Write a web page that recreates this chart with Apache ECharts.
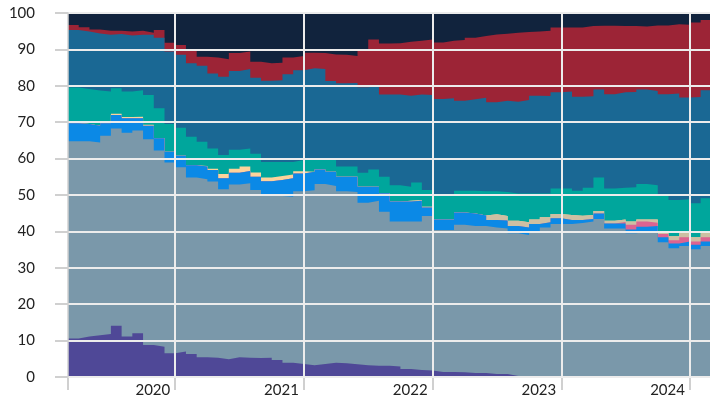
<!DOCTYPE html>
<html>
<head>
<meta charset="utf-8">
<script src="https://cdn.jsdelivr.net/npm/echarts@6/dist/echarts.min.js"></script>
<style>
  html, body { margin: 0; padding: 0; background: #fff; }
  #main { width: 710px; height: 400px; }
</style>
</head>
<body>
<div id="main"></div>
<script>
// monthly shares, Mar 2019 .. Feb 2024
const months = [
  '2019-03','2019-04','2019-05','2019-06','2019-07','2019-08','2019-09','2019-10','2019-11','2019-12',
  '2020-01','2020-02','2020-03','2020-04','2020-05','2020-06','2020-07','2020-08','2020-09','2020-10','2020-11','2020-12',
  '2021-01','2021-02','2021-03','2021-04','2021-05','2021-06','2021-07','2021-08','2021-09','2021-10','2021-11','2021-12',
  '2022-01','2022-02','2022-03','2022-04','2022-05','2022-06','2022-07','2022-08','2022-09','2022-10','2022-11','2022-12',
  '2023-01','2023-02','2023-03','2023-04','2023-05','2023-06','2023-07','2023-08','2023-09','2023-10','2023-11','2023-12',
  '2024-01','2024-02'
];
const yearTicks = [2020, 2021, 2022, 2023, 2024];
const yTicks = [0, 10, 20, 30, 40, 50, 60, 70, 80, 90, 100];

const purple = [10.6,11.1,11.5,11.8,14.1,11.1,12.0,8.8,8.3,6.5, 7.0,6.3,5.4,5.3,4.9,5.4,5.3,5.2,5.3,4.7,3.9,3.6,
  3.2,3.6,3.9,3.8,3.5,3.2,3.1,3.1,2.9,2.2,1.9,1.8, 1.4,1.4,1.3,1.1,1.1,0.8,0.8,0.3,0.2,0.2,0.2,0.2,
  0.2,0.1,0.1,0.1,0.1,0.1,0.1,0.1,0.1,0.1,0.1,0.1, 0.1,0.1];
const grey = [54.2,53.7,52.9,54.5,54.2,56.0,55.7,56.5,53.9,52.4, 50.6,48.5,48.9,48.4,46.7,47.5,47.9,46.2,44.4,45.0,45.6,47.4,
  48.1,49.4,48.6,47.2,47.3,44.7,45.3,42.3,39.8,40.5,40.8,42.4, 39.0,39.0,40.5,40.4,40.4,40.3,40.0,39.2,38.8,39.8,40.9,41.8,
  41.8,42.2,42.6,43.3,40.7,40.7,39.4,39.8,40.0,36.9,35.3,35.9, 35.0,35.9];
const blue = [4.9,4.7,4.6,3.4,3.7,4.0,3.4,3.7,3.4,3.0, 3.2,3.4,3.5,3.2,3.0,3.2,3.4,3.6,4.1,4.4,5.1,4.9,
  5.1,4.0,3.9,4.0,4.2,4.4,3.9,5.1,5.5,5.5,5.7,2.4, 2.9,2.9,3.4,3.4,2.9,2.0,2.2,2.0,2.1,2.0,1.4,1.6,
  1.1,0.8,0.7,1.5,1.4,1.4,1.0,1.4,1.4,1.4,1.3,1.2, 1.2,1.2];
const pink = [0,0,0,0,0,0,0,0,0,0, 0,0,0,0,0,0,0,0,0,0,0,0,
  0,0,0,0,0,0,0,0,0,0,0,0, 0,0,0,0,0,0,0,0,0,0,0,0,
  0,0,0,0,0,0.4,1.3,1.4,0.9,0.9,0.9,1.2, 0.9,1.2];
const beige = [0,0,0,0,0,0,0,0,0,0, 0,0,0,0,0,0,0,0,0,0,0,0,
  0,0,0,0,0,0,0,0,0,0.2,0.2,0.2, 0,0,0,0,0,1.6,1.2,1.4,1.4,1.3,1.4,1.2,
  1.4,1.2,1.1,0.7,0.7,0.7,0.9,0.6,0.9,0.6,1.1,1.1, 1.2,1.1];
const peach = [0,0,0,0,0.3,0.3,0.4,0.3,0,0, 0,0,0.2,0.3,1.2,1.1,1.2,1.2,1.0,1.1,1.0,0.6,
  0,0,0,0,0,0,0,0,0,0,0,0, 0,0,0,0,0,0,0,0,0,0,0,0,
  0,0,0,0,0,0,0,0,0,0,0,0, 0,0];
const teal = [9.8,9.6,9.7,8.7,7.0,7.0,7.3,8.2,8.2,7.6, 7.7,7.8,6.6,5.6,5.2,5.2,5.0,5.1,4.3,3.9,3.5,3.1,
  3.4,2.8,3.2,2.8,2.8,3.8,4.7,4.5,4.5,3.9,4.8,4.6, 6.4,6.4,6.0,6.3,6.6,6.3,6.6,7.5,7.9,7.1,6.5,7.0,
  7.3,6.9,7.5,9.2,8.9,8.7,9.4,9.7,9.4,10.1,9.9,9.3, 9.3,9.6];
const steel = [15.8,15.8,15.7,15.6,14.9,15.4,15.2,16.5,19.4,19.9, 20.0,20.2,20.9,20.6,21.5,21.7,21.8,20.9,22.3,22.4,24.1,24.7,
  25.0,24.8,21.7,22.9,23.0,23.5,23.0,22.6,24.9,25.0,24.2,26.1, 26.7,26.9,24.7,25.1,25.7,24.5,25.1,25.2,25.7,26.9,26.8,26.4,
  26.6,25.8,25.1,24.2,25.9,26.2,26.2,26.0,25.9,27.7,29.3,28.0, 29.2,29.7];
const red = [1.4,1.2,1.1,1.1,0.9,1.1,1.1,0.6,2.1,2.4, 2.7,3.6,2.5,4.4,4.8,4.9,4.8,4.4,4.8,4.8,4.6,3.9,
  4.3,4.4,7.3,7.8,7.4,10.2,12.7,14.0,14.1,14.8,14.8,15.2, 15.5,15.8,16.7,16.9,17.0,18.6,18.4,19.0,18.7,17.6,17.9,17.8,
  17.6,19.0,19.3,17.5,18.8,18.2,18.1,17.3,18.0,18.9,19.0,20.0, 20.5,19.3];
const navy = [3.3,3.9,4.5,4.9,4.9,5.1,4.9,5.4,4.7,8.2, 8.8,10.2,12.0,12.2,12.7,11.0,10.6,13.4,13.8,13.7,12.2,11.8,
  10.9,11.0,11.4,11.5,11.8,10.2,7.3,8.4,8.3,7.9,7.6,7.3, 8.1,7.6,7.4,6.8,6.3,5.9,5.7,5.4,5.2,5.1,4.9,4.0,
  4.0,4.0,3.6,3.5,3.5,3.6,3.6,3.7,3.4,3.4,3.1,3.2, 2.6,1.9];

// bottom to top
const layers = [
  { name: 'purple', data: purple, color: '#4f4897' },
  { name: 'grey',   data: grey,   color: '#7a98aa' },
  { name: 'blue',   data: blue,   color: '#0b89e6' },
  { name: 'pink',   data: pink,   color: '#dc6391' },
  { name: 'beige',  data: beige,  color: '#cdbfa3' },
  { name: 'peach',  data: peach,  color: '#fdd39b' },
  { name: 'teal',   data: teal,   color: '#00a69c' },
  { name: 'steel',  data: steel,  color: '#1a6894' },
  { name: 'red',    data: red,    color: '#9c2436' },
  { name: 'navy',   data: navy,   color: '#11233d' }
];

// month -> fractional year on a value axis
const toYear = m => +m.slice(0, 4) + (+m.slice(5, 7) - 1) / 12;
const xs = months.map(toYear);
const xMin = xs[0];
const xMax = 2024.156;

// ECharts' stacked step areas use a straight lower edge, so draw each layer
// as its running total filled down to 0 and paint the top layers first.
const running = months.map(() => 0);
const series = layers.map(l => {
  const tops = l.data.map((v, i) => (running[i] += v));
  const pts = tops.map((v, i) => [xs[i], +v.toFixed(2)]);
  pts.push([xs[xs.length - 1] + 1 / 12, pts[pts.length - 1][1]]); // close last step
  return {
    name: l.name,
    type: 'line',
    step: 'end',
    symbol: 'none',
    data: pts,
    lineStyle: { width: 0 },
    areaStyle: { color: l.color, opacity: 1, origin: 'start' },
    itemStyle: { color: l.color }
  };
}).reverse();

const chart = echarts.init(document.getElementById('main'), null, { renderer: 'canvas' });
chart.setOption({
  animation: false,
  textStyle: { fontFamily: 'Lato' },
  grid: { left: 68, right: 0, top: 13, bottom: 23, containLabel: false },
  xAxis: {
    type: 'value',
    min: xMin,
    max: xMax,
    z: 10,
    axisLine: { show: true, lineStyle: { color: '#d6d6d6', width: 2 } },
    axisTick: {
      show: true, length: 13, customValues: [xMin].concat(yearTicks),
      lineStyle: { color: '#d0d0d0', width: 2 }
    },
    axisLabel: {
      customValues: yearTicks,
      formatter: v => String(Math.round(v)),
      align: 'right',
      padding: [0, 5, 0, 0],
      margin: 6,
      fontSize: 15,
      color: '#222',
      fontFamily: 'Lato'
    },
    splitLine: { show: true, showMinLine: false, lineStyle: { color: '#ececec', width: 2 } }
  },
  yAxis: {
    type: 'value',
    min: yTicks[0],
    max: yTicks[yTicks.length - 1],
    interval: 10,
    z: 11,
    axisLine: { show: true, lineStyle: { color: '#d0d0d0', width: 1.5 } },
    axisTick: { show: true, length: 13, lineStyle: { color: '#d0d0d0', width: 2 } },
    axisLabel: { margin: 33, fontSize: 15, color: '#222', fontFamily: 'Lato' },
    splitLine: { show: true, lineStyle: { color: '#ececec', width: 2 } }
  },
  series: series
});
</script>
</body>
</html>
